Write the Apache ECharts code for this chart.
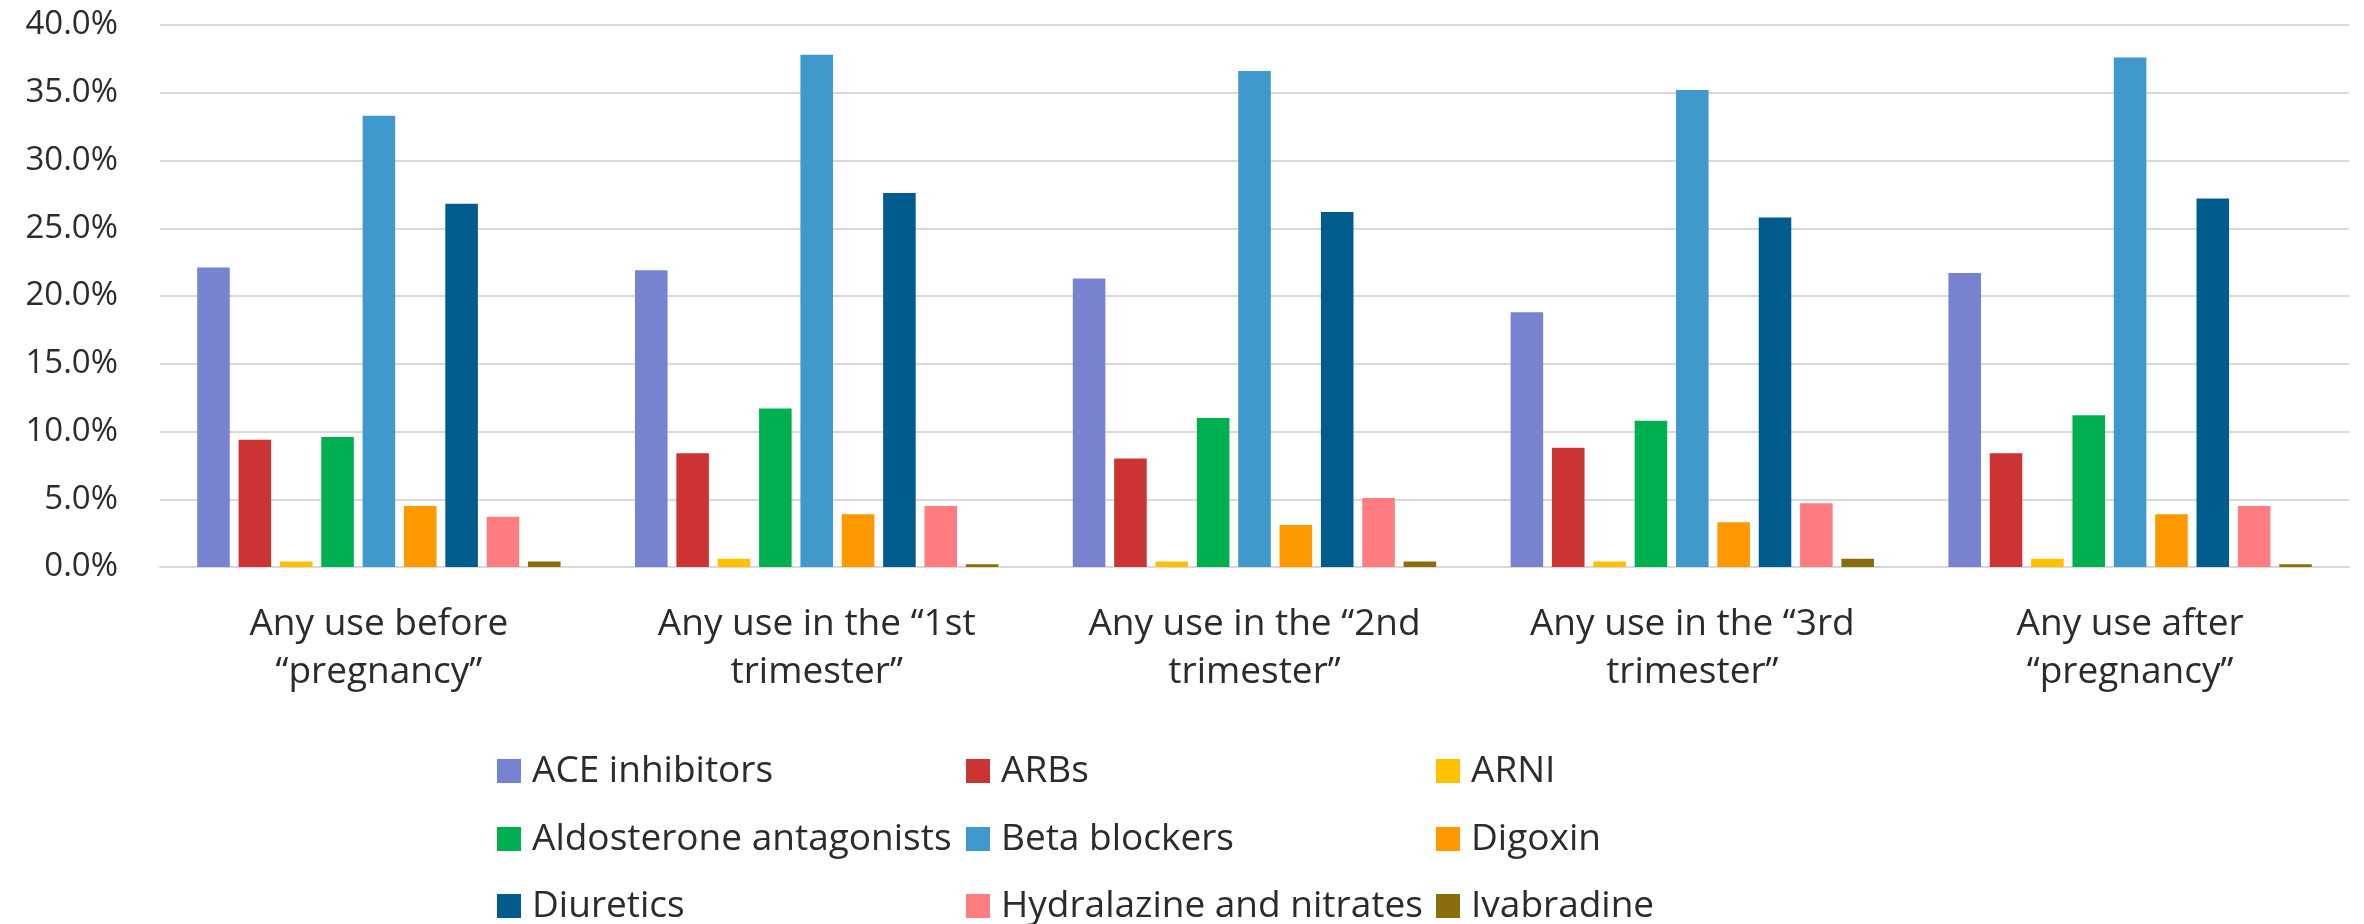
<!DOCTYPE html>
<html>
<head>
<meta charset="utf-8">
<script src="https://cdn.jsdelivr.net/npm/echarts@6/dist/echarts.min.js"></script>
<style>html,body{margin:0;padding:0;background:#fff}#c{width:2364px;height:924px}</style>
</head>
<body>
<div id="c"></div>
<script>
const categories = ['Any use before\n\u201cpregnancy\u201d', 'Any use in the \u201c1st\ntrimester\u201d', 'Any use in the \u201c2nd\ntrimester\u201d', 'Any use in the \u201c3rd\ntrimester\u201d', 'Any use after\n\u201cpregnancy\u201d'];
const seriesNames = ['ACE inhibitors', 'ARBs', 'ARNI', 'Aldosterone antagonists', 'Beta blockers', 'Digoxin', 'Diuretics', 'Hydralazine and nitrates', 'Ivabradine'];
const aceInhibitors = [22.1, 21.9, 21.3, 18.8, 21.7];
const arbs = [9.4, 8.4, 8.0, 8.8, 8.4];
const arni = [0.4, 0.6, 0.4, 0.4, 0.6];
const aldosterone = [9.6, 11.7, 11.0, 10.8, 11.2];
const betaBlockers = [33.3, 37.8, 36.6, 35.2, 37.6];
const digoxin = [4.5, 3.9, 3.1, 3.3, 3.9];
const diuretics = [26.8, 27.6, 26.2, 25.8, 27.2];
const hydralazine = [3.7, 4.5, 5.1, 4.7, 4.5];
const ivabradine = [0.4, 0.2, 0.4, 0.6, 0.2];
const yTicks = [0, 5, 10, 15, 20, 25, 30, 35, 40];

const values = [aceInhibitors, arbs, arni, aldosterone, betaBlockers, digoxin, diuretics, hydralazine, ivabradine];
const colors = ['#7782D0', '#CC3333', '#FFC000', '#00B050', '#3F99CC', '#FF9900', '#005C8C', '#FF7C80', '#8B6D0B'];
const font = 'Open Sans';
const txt = '#2b2b2b';

// legend grid: 3 columns x 3 rows
const colLeft = [497, 966, 1436];
const rowTop = [751, 819, 886];
const legends = seriesNames.map((n, i) => ({
  left: colLeft[i % 3], top: rowTop[Math.floor(i / 3)], padding: 0,
  itemWidth: 24, itemHeight: 24, icon: 'rect', data: [n],
  textStyle: {fontFamily: font, fontSize: 37, color: txt, lineHeight: 40, padding: [0, 0, 0, 6]}
}));

const chart = echarts.init(document.getElementById('c'), null, {renderer: 'canvas'});
chart.setOption({
  animation: false,
  color: colors,
  grid: {left: 160, right: 15, top: 25, bottom: 357, containLabel: false},
  legend: legends,
  xAxis: {
    type: 'category', data: categories,
    axisLine: {show: true, lineStyle: {color: '#d9d9d9', width: 2}},
    axisTick: {show: false},
    axisLabel: {fontFamily: font, fontSize: 37, color: txt, lineHeight: 48, margin: 33, interval: 0}
  },
  yAxis: {
    type: 'value', min: yTicks[0], max: yTicks[yTicks.length - 1], interval: 5,
    axisLine: {show: false}, axisTick: {show: false},
    splitLine: {lineStyle: {color: '#d9d9d9', width: 2}},
    axisLabel: {fontFamily: font, fontSize: 33, color: txt, margin: 42, formatter: v => v.toFixed(1) + '%'}
  },
  series: seriesNames.map((n, i) => ({
    name: n, type: 'bar', data: values[i],
    barGap: '27%', barCategoryGap: '17%',
    itemStyle: {color: colors[i]}
  }))
});
</script>
</body>
</html>
